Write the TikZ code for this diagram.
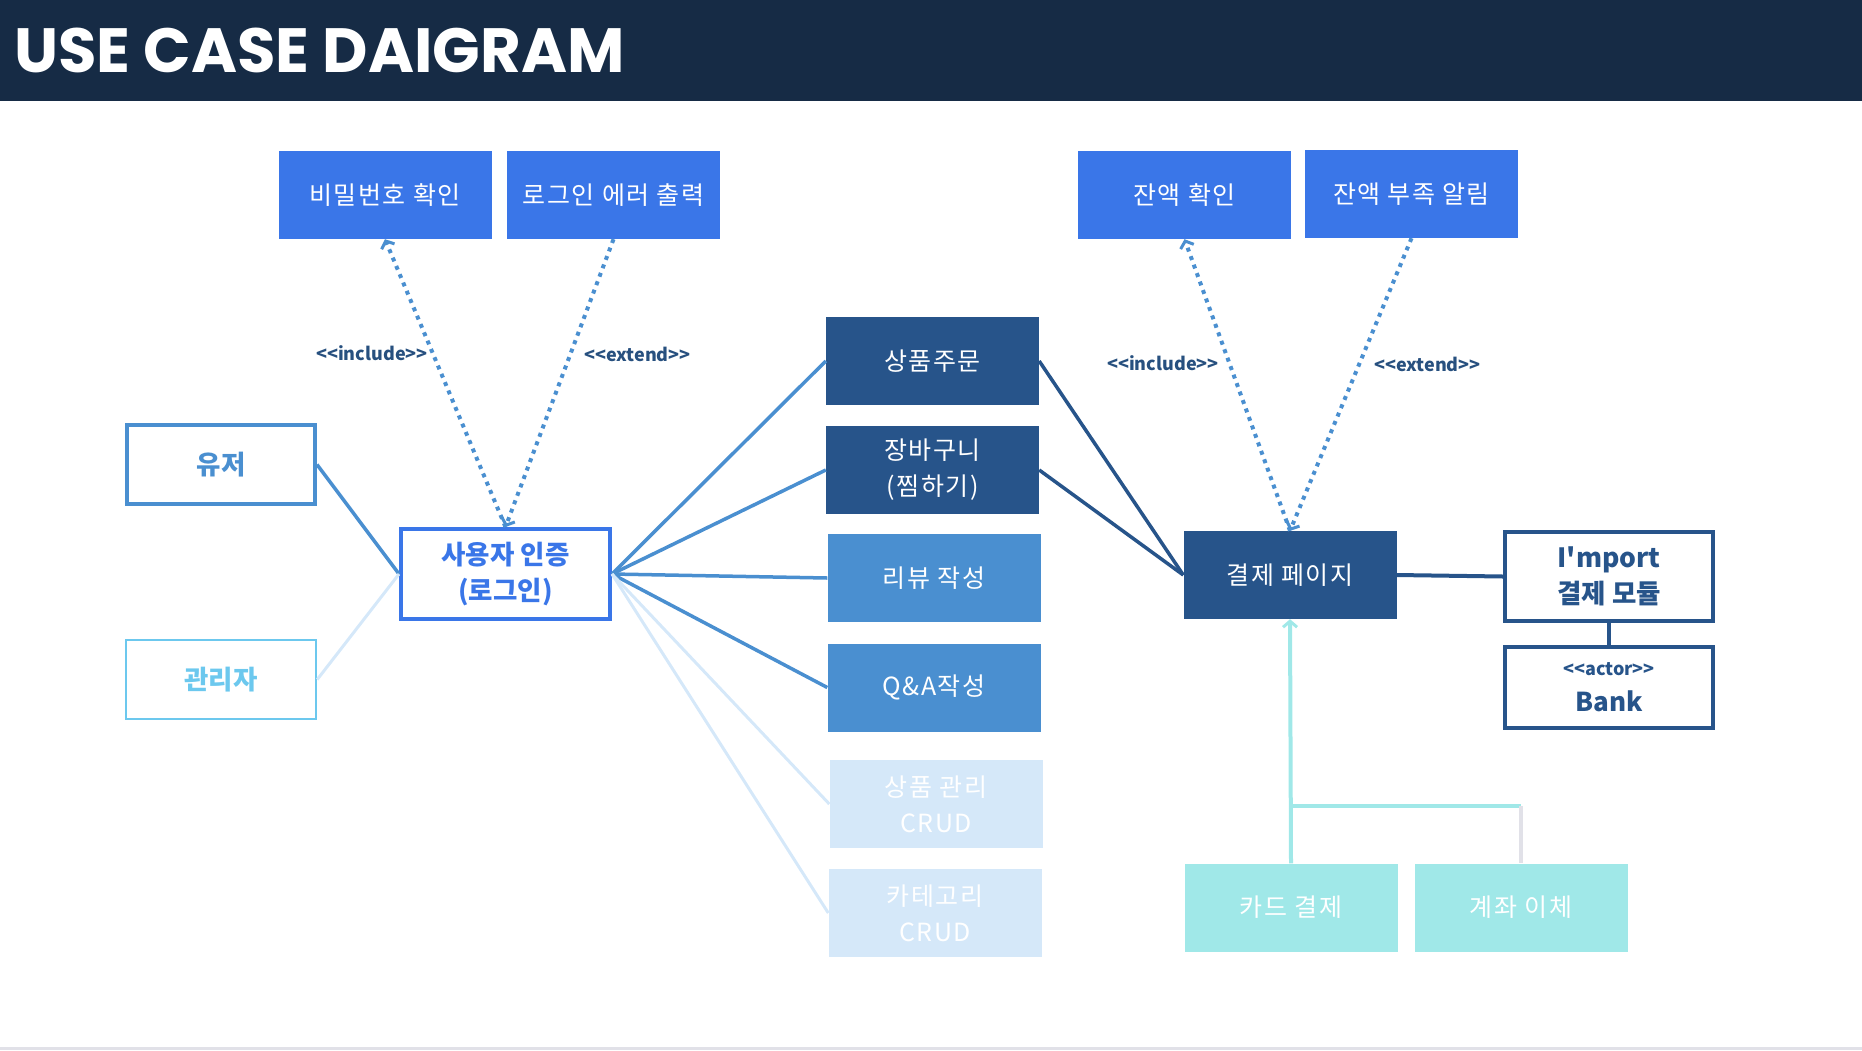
\documentclass[tikz,border=0pt]{standalone}
\usepackage{fontspec}
\usepackage{tikz}
\usetikzlibrary{arrows.meta}
\newfontfamily\kr{Noto Sans CJK KR}
\newfontfamily\krweit{Noto Sans CJK KR}[LetterSpace=6]
\newfontfamily\titlefont{Poppins}
\definecolor{navy}{HTML}{162B45}
\definecolor{blau}{HTML}{3A76E8}
\definecolor{mittelblau}{HTML}{4A8FD0}
\definecolor{dunkelblau}{HTML}{27548A}
\definecolor{hellblau}{HTML}{D5E8F9}
\definecolor{himmelblau}{HTML}{6CC8EE}
\definecolor{tuerkis}{HTML}{A0E8E8}
\definecolor{schrift}{HTML}{27507F}
\definecolor{grauline}{HTML}{E1E1E8}

\begin{document}
\begin{tikzpicture}[x=1pt, y=-1pt,
	>={Straight Barb[length=6pt,width=14pt,line width=3pt]}]
	
	\tikzset{
		box/.style={rectangle, inner sep=0pt, minimum width=213pt, minimum height=88pt,
			align=center, font=\krweit\fontsize{25}{36}\selectfont},
		vollbox/.style={box, text=white},
		randbox/.style={box, draw, line width=4pt, font=\kr\bfseries\fontsize{26.5}{36}\selectfont},
		punkte/.style={mittelblau, line width=4pt, dash pattern=on 4pt off 5pt},
		stereo/.style={text=schrift, font=\kr\bfseries\fontsize{18}{20}\selectfont},
		linie/.style={line width=3.5pt}
	}
	
	% Rahmen
	\useasboundingbox (0,0) rectangle (1862,1050);
	\fill[navy] (0,0) rectangle (1862,101);
	\fill[grauline] (0,1047) rectangle (1862,1050);
	\node[anchor=base west, inner sep=0pt, text=white,
		font=\titlefont\bfseries\fontsize{62.5}{64}\selectfont] (titel) at (14,72) {USE CASE DAIGRAM};
	
	% obere Kaesten
	\node[vollbox, fill=blau] (pw) at (385,195) {비밀번호 확인};
	\node[vollbox, fill=blau] (lerr) at (613.5,195) {로그인 에러 출력};
	\node[vollbox, fill=blau] (bal) at (1184.5,195) {잔액 확인};
	\node[vollbox, fill=blau] (low) at (1411.5,194) {잔액 부족 알림};
	
	% Akteure
	\node[randbox, draw=mittelblau, text=mittelblau, minimum width=188pt, minimum height=79pt] (user) at (221,464.5) {유저};
	\node[randbox, draw=himmelblau, text=himmelblau, line width=2.5pt, minimum width=190pt, minimum height=79pt] (admin) at (221,679.5) {관리자};
	\node[randbox, draw=blau, text=blau, minimum width=209pt, minimum height=90pt] (auth) at (505.5,574) {사용자 인증\\(로그인)};
	
	% mittlere Spalte
	\node[vollbox, fill=dunkelblau] (order) at (932.5,361) {상품주문};
	\node[vollbox, fill=dunkelblau] (cart) at (932.5,470) {장바구니\\(찜하기)};
	\node[vollbox, fill=mittelblau] (review) at (934,578) {리뷰 작성};
	\node[vollbox, fill=mittelblau] (qna) at (934,687.5) {Q\&A작성};
	\node[vollbox, fill=hellblau] (prod) at (936,804) {상품 관리\\CRUD};
	\node[vollbox, fill=hellblau] (cat) at (935,913) {카테고리\\CRUD};
	
	% rechte Seite
	\node[vollbox, fill=dunkelblau] (pay) at (1290,575) {결제 페이지};
	\node[randbox, draw=dunkelblau, text=dunkelblau, minimum width=208pt, minimum height=89pt] (imp) at (1609,576.5) {I'mport\\결제 모듈};
	\node[randbox, draw=dunkelblau, text=dunkelblau, minimum width=208pt, minimum height=81pt] (bank) at (1609,687.5)
		{\fontsize{18}{32}\selectfont <<actor>>\\\fontsize{26}{32}\selectfont Bank};
	\node[vollbox, fill=tuerkis] (card) at (1291,907.5) {카드 결제};
	\node[vollbox, fill=tuerkis] (acct) at (1521,907.5) {계좌 이체};
	
	% Stereotypen
	\node[stereo] (incl) at (372,353) {<<include>>};
	\node[stereo] (extl) at (637.5,354) {<<extend>>};
	\node[stereo] (incr) at (1163,363) {<<include>>};
	\node[stereo] (extr) at (1427.5,364) {<<extend>>};
	
	% gepunktete Pfeile
	\draw[punkte, ->] (auth.north) -- (pw.south);
	\draw[punkte, ->] (lerr.south) -- (auth.north);
	\draw[punkte, ->] (pay.north) -- (bal.south);
	\draw[punkte, ->] (low.south) -- (pay.north);
	
	% Verbindungen links
	\draw[linie, mittelblau] (user.east) -- (auth.west);
	\draw[linie, hellblau, line width=3pt] (admin.east) -- (auth.west);
	\foreach \z in {order,cart,review,qna}
		\draw[linie, mittelblau] (auth.east) -- (\z.west);
	\foreach \z in {prod,cat}
		\draw[linie, hellblau, line width=3pt] (auth.east) -- (\z.west);
	
	% Verbindungen rechts
	\foreach \z in {order,cart}
		\draw[linie, dunkelblau] (\z.east) -- (pay.west);
	\draw[linie, dunkelblau, line width=4pt] (pay.east) -- (imp.west);
	\draw[linie, dunkelblau, line width=4pt] (imp.south) -- (bank.north);
	
	% Zahlungsarten
	\coordinate (split) at (1291,806);
	\coordinate (splitr) at (acct.north |- split);
	\draw[tuerkis, line width=4pt, ->] (card.north) -- (pay.south);
	\draw[tuerkis, line width=4pt] (split) -- (splitr);
	\draw[grauline, line width=4pt] (splitr) -- (acct.north);
	
\end{tikzpicture}
\end{document}
